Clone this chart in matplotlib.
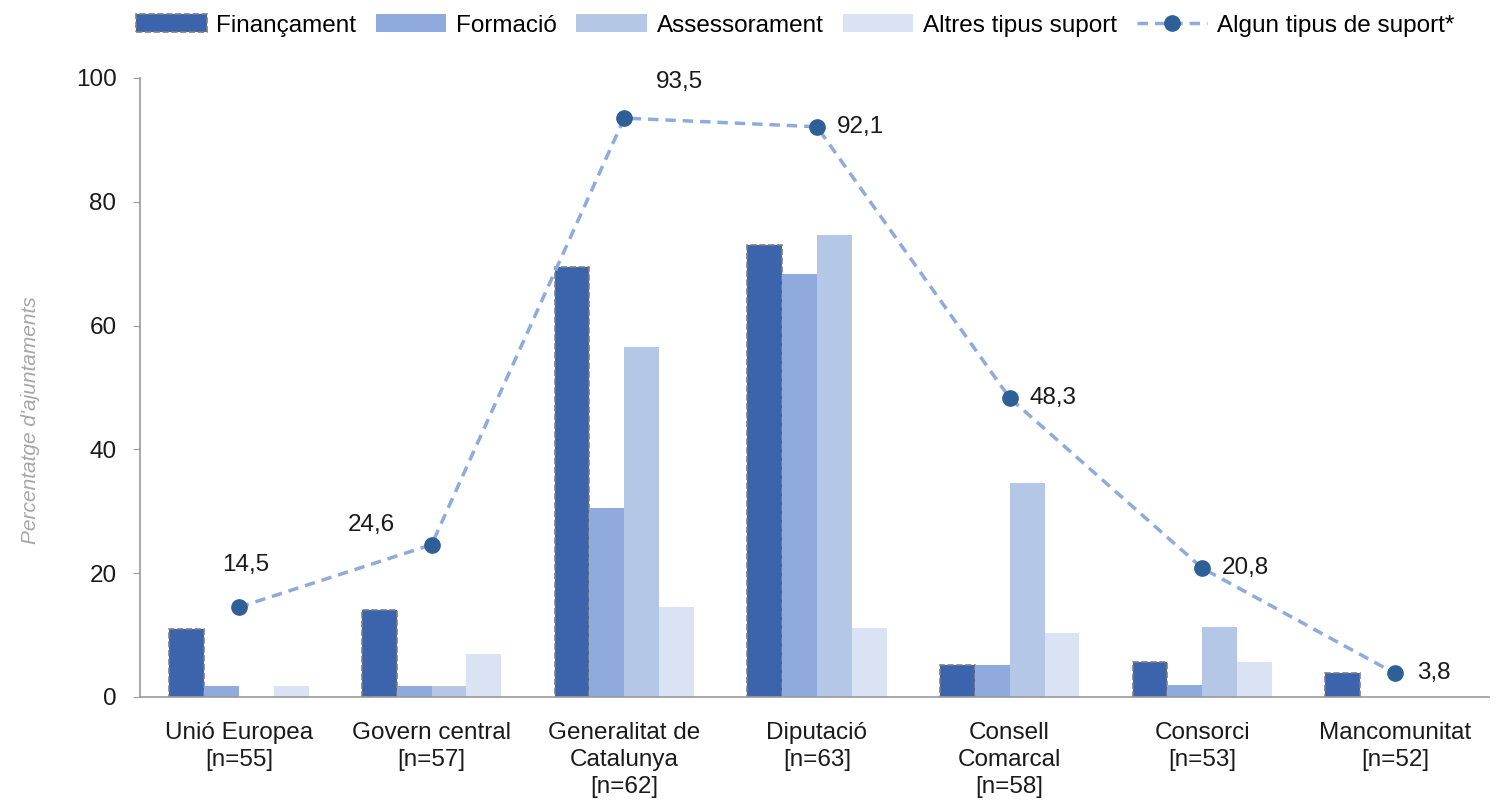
import numpy as np
import matplotlib
matplotlib.use("Agg")
import matplotlib.pyplot as plt

plt.rcParams['font.family'] = ['Liberation Sans', 'DejaVu Sans']

categories = ["Unió Europea\n[n=55]", "Govern central\n[n=57]", "Generalitat de\nCatalunya\n[n=62]",
              "Diputació\n[n=63]", "Consell\nComarcal\n[n=58]", "Consorci\n[n=53]", "Mancomunitat\n[n=52]"]
financament = [10.9, 14.0, 69.4, 73.0, 5.2, 5.7, 3.8]
formacio = [1.8, 1.8, 30.6, 68.3, 5.2, 1.9, 0]
assessorament = [0, 1.8, 56.5, 74.6, 34.5, 11.3, 0]
altres = [1.8, 7.0, 14.5, 11.1, 10.3, 5.7, 0]
algun = [14.5, 24.6, 93.5, 92.1, 48.3, 20.8, 3.8]
algun_labels = ["14,5", "24,6", "93,5", "92,1", "48,3", "20,8", "3,8"]

series = [
    ("Finançament", financament, "#3C64AC"),
    ("Formació", formacio, "#8FAADC"),
    ("Assessorament", assessorament, "#B4C7E7"),
    ("Altres tipus suport", altres, "#DAE3F3"),
]

fig = plt.figure(figsize=(15.06, 8.11), dpi=100)
ax = fig.add_axes([0.093, 0.1406, 0.896, 0.7634])

x = np.arange(len(categories))
w = 0.181
handles = []
for i, (name, vals, col) in enumerate(series):
    pos = x + (i - 1.5) * w
    if i == 0:
        h = ax.bar(pos, vals, w, color=col, edgecolor="#7f7f7f", linestyle="--",
                   linewidth=1.2, label=name, zorder=2)
    else:
        h = ax.bar(pos, vals, w, color=col, label=name, zorder=2)
    handles.append(h)

ln, = ax.plot(x, algun, linestyle=(0, (3, 2)), color="#8FAADC", linewidth=2.5,
              marker="o", markersize=11, markerfacecolor="#2E5F97", markeredgecolor="#2E5F97",
              label="Algun tipus de suport*", zorder=3)
handles.append(ln)

# label offsets in pixels (dx, dy, ha)
offsets = [(7, 42, "center"), (-60, 20, "center"), (55, 36, "center"), (20, 0, "left"),
           (20, 0, "left"), (19, 0, "left"), (22, 0, "left")]
for xi, yi, lab, (dx, dy, ha) in zip(x, algun, algun_labels, offsets):
    ax.annotate(lab, (xi, yi), xytext=(dx, dy), textcoords="offset pixels",
                ha=ha, va="center", fontsize=17.5, color="#1a1a1a")

ax.set_xlim(-0.513, 6.49)
ax.set_ylim(0, 100)
ax.set_yticks([0, 20, 40, 60, 80, 100])
ax.set_xticks(x)
ax.set_xticklabels(categories, fontsize=17.5, color="#1a1a1a", linespacing=1.3)
ax.tick_params(axis="y", labelsize=17.5, labelcolor="#1a1a1a", length=5, color="#999999", pad=12)
ax.tick_params(axis="x", length=0, pad=18)
for s in ["top", "right"]:
    ax.spines[s].set_visible(False)
for s in ["left", "bottom"]:
    ax.spines[s].set_color("#999999")
    ax.spines[s].set_linewidth(1.2)

ax.set_ylabel("Percentatge d'ajuntaments", fontsize=15, style="italic", color="#a6a6a6")
ax.yaxis.set_label_coords(-0.074, 0.447)

labels = [h.get_label() for h in handles]
fig.legend(handles, labels, loc="upper center", bbox_to_anchor=(0.528, 1.01), ncol=5,
           frameon=False, fontsize=17.5, handlelength=2.9, handleheight=0.8,
           columnspacing=0.8, handletextpad=0.4)

fig.savefig("out.png", dpi=100)
